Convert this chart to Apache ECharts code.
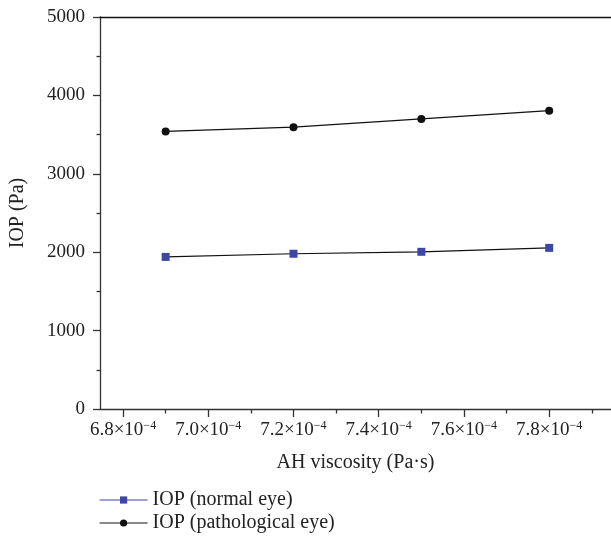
<!DOCTYPE html>
<html><head><meta charset="utf-8">
<script src="https://cdn.jsdelivr.net/npm/echarts@6/dist/echarts.min.js"></script>
<style>html,body{margin:0;padding:0;background:#fff}#c{width:611px;height:536px}</style>
</head><body><div id="c"></div>
<script>
// AH viscosity (Pa·s)
const viscosity = [6.9e-4, 7.2e-4, 7.5e-4, 7.8e-4];
// IOP values (Pa)
const iopNormal = [1940, 1980, 2005, 2055];
const iopPathological = [3540, 3595, 3700, 3805];
const xMajorTicks = [6.8e-4, 7.0e-4, 7.2e-4, 7.4e-4, 7.6e-4, 7.8e-4];
const xMinorTicks = [6.9e-4, 7.1e-4, 7.3e-4, 7.5e-4, 7.7e-4, 7.9e-4];
const seriesNames = ['IOP (normal eye)', 'IOP (pathological eye)'];

const FONT = "'Liberation Serif', 'DejaVu Serif', serif";
const AX = '#333';
const TXT = '#222';
const BLUE = '#3f47a6';
const chart = echarts.init(document.getElementById('c'), null, {renderer: 'canvas'});
const xMin = 6.746e-4, xMax = 7.945e-4;
const pair = (xs, ys) => xs.map((x, i) => [x, ys[i]]);

chart.setOption({
  animation: false,
  backgroundColor: '#fff',
  textStyle: {fontFamily: FONT},
  grid: {left: 97, right: 0, top: 17, bottom: 127, containLabel: false},
  legend: {
    orient: 'vertical', left: 94, top: 484, height: 60, itemWidth: 48, itemHeight: 9, itemGap: 1,
    textStyle: {fontFamily: FONT, fontSize: 20, color: TXT, lineHeight: 22},
    data: [
      {name: seriesNames[0], itemStyle: {color: BLUE}, lineStyle: {color: BLUE, width: 1}},
      {name: seriesNames[1], itemStyle: {color: '#111'}, lineStyle: {color: '#111', width: 1.2}}
    ]
  },
  xAxis: [
    {
      type: 'value', min: xMin, max: xMax, position: 'bottom',
      name: 'AH viscosity (Pa·s)', nameLocation: 'middle', nameGap: 44,
      nameTextStyle: {fontFamily: FONT, fontSize: 20, color: TXT},
      axisLine: {show: true, lineStyle: {color: AX, width: 1.3}},
      axisTick: {show: true, customValues: xMajorTicks, length: 8, lineStyle: {color: AX, width: 1.3}},
      axisLabel: {
        customValues: xMajorTicks, margin: 11, fontFamily: FONT, fontSize: 19, color: TXT,
        formatter: v => '{m|' + (v * 1e4).toFixed(1) + '×10}{s|−4}',
        rich: {m: {fontFamily: FONT, fontSize: 19, color: TXT}, s: {fontFamily: FONT, fontSize: 12, color: TXT, padding: [0, 0, 9, 0]}}
      },
      splitLine: {show: false}
    },
    {
      type: 'value', min: xMin, max: xMax, position: 'bottom',
      axisLine: {show: false},
      axisTick: {show: true, customValues: xMinorTicks, length: 4.5, lineStyle: {color: AX, width: 1.3}},
      axisLabel: {show: false},
      splitLine: {show: false}
    },
    {
      type: 'value', min: xMin, max: xMax, position: 'top',
      axisLine: {show: true, onZero: false, lineStyle: {color: '#111', width: 1.3}},
      axisTick: {show: false}, axisLabel: {show: false}, splitLine: {show: false}
    }
  ],
  yAxis: {
    type: 'value', min: 0, max: 5000, interval: 1000,
    name: 'IOP (Pa)', nameLocation: 'middle', nameGap: 72,
    nameTextStyle: {fontFamily: FONT, fontSize: 20, color: TXT},
    axisLine: {show: true, lineStyle: {color: AX, width: 1.3}},
    axisTick: {show: true, length: 7, lineStyle: {color: AX, width: 1.3}},
    minorTick: {show: true, splitNumber: 2, length: 3.5, lineStyle: {color: AX, width: 1.3}},
    axisLabel: {margin: 15, fontFamily: FONT, fontSize: 19, color: TXT, formatter: v => String(v)},
    splitLine: {show: false}
  },
  series: [
    {
      name: seriesNames[0], type: 'line', xAxisIndex: 0, data: pair(viscosity, iopNormal),
      symbol: 'rect', symbolSize: 8, itemStyle: {color: BLUE},
      lineStyle: {color: '#111', width: 1.2}
    },
    {
      name: seriesNames[1], type: 'line', xAxisIndex: 0, data: pair(viscosity, iopPathological),
      symbol: 'circle', symbolSize: 8, itemStyle: {color: '#111'},
      lineStyle: {color: '#111', width: 1.2}
    }
  ]
});
</script></body></html>
